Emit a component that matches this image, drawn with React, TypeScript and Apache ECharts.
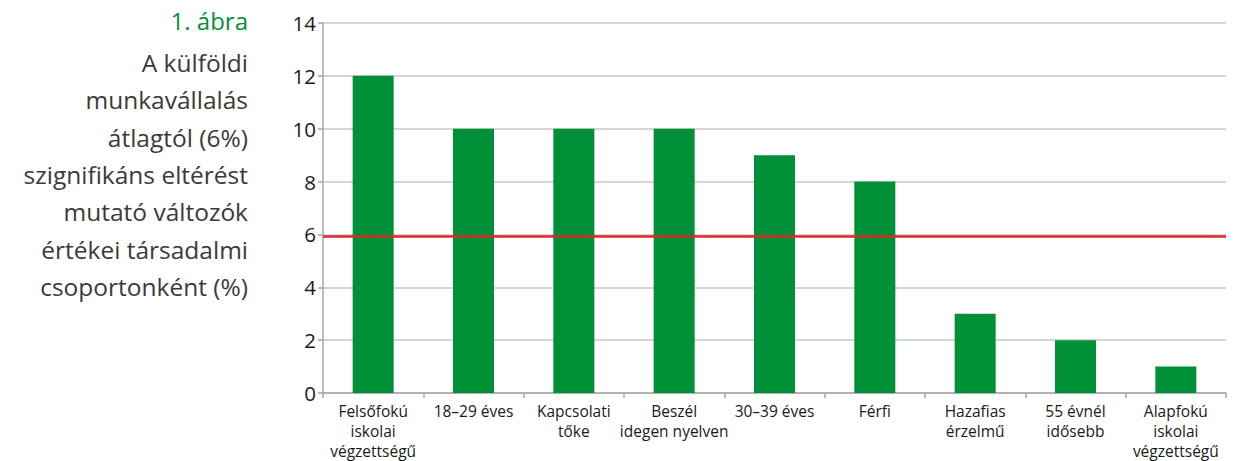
import React, { useEffect, useRef } from "react";
import * as echarts from "echarts";

const categories = [
  "Felsőfokú\niskolai\nvégzettségű",
  "18–29 éves",
  "Kapcsolati\ntőke",
  "Beszél\nidegen nyelven",
  "30–39 éves",
  "Férfi",
  "Hazafias\nérzelmű",
  "55 évnél\nidősebb",
  "Alapfokú\niskolai\nvégzettségű",
];
const values = [12, 10, 10, 10, 9, 8, 3, 2, 1];
const averageLine = 5.94;
const yTicks = { min: 0, max: 14, interval: 2 };
const titleNumber = "1. ábra";
const titleLines = [
  "A külföldi",
  "munkavállalás",
  "átlagtól (6%)",
  "szignifikáns eltérést",
  "mutató változók",
  "értékei társadalmi",
  "csoportonként (%)",
];

const FONT = "'Open Sans', 'Noto Sans', sans-serif";

export default function App() {
  const ref = useRef<HTMLDivElement>(null);
  useEffect(() => {
    if (!ref.current) return;
    const chart = echarts.init(ref.current, null, { renderer: "svg" });
    chart.setOption({
      animation: false,
      textStyle: { fontFamily: FONT },
      grid: {
        left: 323,
        right: 18,
        top: 23,
        bottom: 68,
        containLabel: false,
        outerBoundsMode: "none",
      },
      xAxis: {
        type: "category",
        data: categories,
        axisLine: { lineStyle: { color: "#a6a6a6", width: 1.5 } },
        axisTick: { show: true, length: 5, lineStyle: { color: "#a6a6a6", width: 1.5 } },
        axisLabel: {
          color: "#1a1a1a",
          fontSize: 15.5,
          lineHeight: 20,
          margin: 8,
          interval: 0,
          fontFamily: FONT,
        },
      },
      yAxis: {
        type: "value",
        min: yTicks.min,
        max: yTicks.max,
        interval: yTicks.interval,
        axisLine: { show: true, lineStyle: { color: "#a6a6a6", width: 1.5 } },
        axisTick: { show: true, length: 5, lineStyle: { color: "#a6a6a6", width: 1.5 } },
        splitLine: { lineStyle: { color: "#c8c8c8", width: 1.5 } },
        axisLabel: { color: "#1a1a1a", fontSize: 20.5, margin: 7, fontFamily: FONT },
      },
      series: [
        {
          type: "bar",
          data: values,
          barWidth: 41,
          itemStyle: { color: "#009037" },
          emphasis: { disabled: true },
          markLine: {
            silent: true,
            symbol: "none",
            label: { show: false },
            emphasis: { disabled: true },
            lineStyle: { color: "#e3262a", width: 2.5, type: "solid", opacity: 1 },
            data: [{ yAxis: averageLine }],
          },
        },
      ],
      graphic: [
        {
          type: "text",
          right: 1244 - 248,
          top: 8,
          style: {
            text: titleNumber,
            fill: "#00913a",
            font: `24px ${FONT}`,
            textAlign: "right",
          },
        },
        {
          type: "text",
          right: 1244 - 248,
          top: 44,
          style: {
            text: titleLines.join("\n"),
            fill: "#3a3a3a",
            font: `24.5px ${FONT}`,
            lineHeight: 37.3,
            textAlign: "right",
          },
        },
      ],
    });
    return () => chart.dispose();
  }, []);
  return <div ref={ref} style={{ width: 1244, height: 461, position: "absolute", left: 0, top: 0 }} />;
}
